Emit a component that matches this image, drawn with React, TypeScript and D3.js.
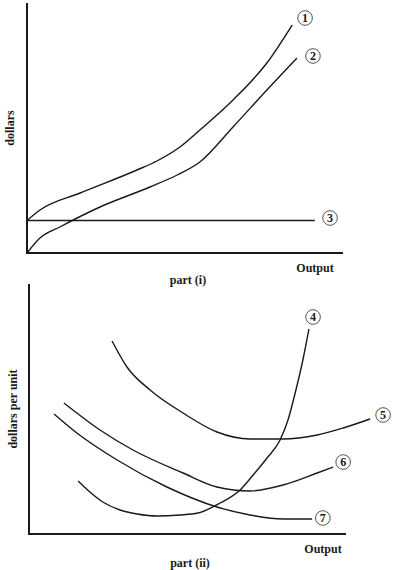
import React from "react";
import * as d3 from "d3";

type P = [number, number];

// Part (i): total-cost style curves (output, dollars)
const curve1: P[] = [[0, 1.3], [0.41, 1.72], [1.68, 2.4], [3.48, 3.32], [4.11, 3.68], [4.84, 4.24], [5.47, 4.92], [6.52, 6.12], [7.59, 7.6], [8.39, 9.12]];
const curve2: P[] = [[0, 0], [0.41, 0.6], [1.04, 1.04], [2.31, 1.84], [3.89, 2.64], [4.75, 3.12], [5.47, 3.64], [6.52, 5.04], [7.59, 6.52], [8.54, 7.8]];
const curve3: P[] = [[0, 1.3], [9.11, 1.3]];
const labelsTop = ["1", "2", "3"];
const labelPosTop: P[] = [[8.8, 9.4], [9.05, 7.88], [9.59, 1.4]];

// Part (ii): per-unit curves (output, dollars per unit)
const curve4: P[] = [[1.55, 2.12], [1.92, 1.68], [2.33, 1.28], [2.87, 0.96], [3.41, 0.8], [4.04, 0.72], [4.76, 0.76], [5.33, 0.84], [6.03, 1.24], [6.66, 1.76], [7.07, 2.36], [7.51, 3.04], [7.92, 3.76], [8.17, 4.56], [8.42, 5.76], [8.64, 6.96], [8.83, 8.2]];
const curve5: P[] = [[2.62, 7.72], [3.09, 6.68], [3.82, 5.76], [4.86, 4.84], [5.93, 4.08], [6.97, 3.8], [8.01, 3.8], [9.09, 3.96], [9.91, 4.24], [10.76, 4.6]];
const curve6: P[] = [[1.1, 5.24], [2.24, 4.16], [3.28, 3.36], [4.86, 2.44], [5.93, 1.88], [6.97, 1.72], [8.01, 1.96], [9.09, 2.44], [9.59, 2.68]];
const curve7: P[] = [[0.79, 4.8], [1.51, 4.04], [2.78, 2.96], [4.35, 1.88], [5.93, 1.08], [6.97, 0.76], [8.01, 0.6], [8.93, 0.6]];
const labelsBottom = ["4", "5", "6", "7"];
const labelPosBottom: P[] = [[8.96, 8.68], [11.17, 4.76], [9.91, 2.88], [9.27, 0.64]];

const FONT = "'Liberation Serif', 'Times New Roman', serif";
const INK = "#1a1a1a";

function Panel(props: {
  x0: number; x1: number; y0: number; y1: number;
  curves: P[][]; labels: string[]; labelPos: P[];
  yTitle: string; xTitle: string; partTitle: string;
  yTitleX: number; outputX: number; outputY: number; partX: number; partY: number;
}) {
  const x = d3.scaleLinear().domain([0, 10]).range([props.x0, props.x1]);
  const y = d3.scaleLinear().domain([0, 10]).range([props.y0, props.y1]);
  const line = d3.line<P>().x(d => x(d[0])).y(d => y(d[1])).curve(d3.curveMonotoneX);
  const yMid = (props.y0 + props.y1) / 2;
  return (
    <g>
      {props.curves.map((c, i) => (
        <path key={i} d={line(c) || ""} fill="none" stroke={INK} strokeWidth={1.4} />
      ))}
      <line x1={x(0)} x2={x(0)} y1={props.y1} y2={props.y0} stroke={INK} strokeWidth={2} />
      <line x1={x(0) - 1} x2={x(10)} y1={props.y0} y2={props.y0} stroke={INK} strokeWidth={2} />
      {props.labels.map((t, i) => (
        <g key={t} transform={`translate(${x(props.labelPos[i][0])},${y(props.labelPos[i][1])})`}>
          <circle r={7.3} fill="white" stroke="#555" strokeWidth={1} />
          <text textAnchor="middle" dy="0.36em" fontFamily={FONT} fontWeight="bold" fontSize={12} fill={INK}>{t}</text>
        </g>
      ))}
      <text transform={`translate(${props.yTitleX},${yMid}) rotate(-90)`} textAnchor="middle" dy="0.35em"
        fontFamily={FONT} fontWeight="bold" fontSize={12} fill={INK}>{props.yTitle}</text>
      <text x={props.outputX} y={props.outputY} textAnchor="middle" dy="0.35em"
        fontFamily={FONT} fontWeight="bold" fontSize={12} fill={INK}>{props.xTitle}</text>
      <text x={props.partX} y={props.partY} textAnchor="middle" dy="0.35em"
        fontFamily={FONT} fontWeight="bold" fontSize={12} fill={INK}>{props.partTitle}</text>
    </g>
  );
}

export default function App() {
  return (
    <svg width={395} height={570} style={{ position: "absolute", left: 0, top: 0, background: "white" }}>
      <rect width={395} height={570} fill="white" />
      <Panel x0={27} x1={343} y0={253} y1={3}
        curves={[curve1, curve2, curve3]} labels={labelsTop} labelPos={labelPosTop}
        yTitle="dollars" xTitle="Output" partTitle="part (i)"
        yTitleX={10} outputX={315} outputY={268} partX={188} partY={280} />
      <Panel x0={29} x1={346} y0={534} y1={284}
        curves={[curve4, curve5, curve6, curve7]} labels={labelsBottom} labelPos={labelPosBottom}
        yTitle="dollars per unit" xTitle="Output" partTitle="part (ii)"
        yTitleX={13} outputX={323} outputY={549} partX={190} partY={563} />
    </svg>
  );
}
